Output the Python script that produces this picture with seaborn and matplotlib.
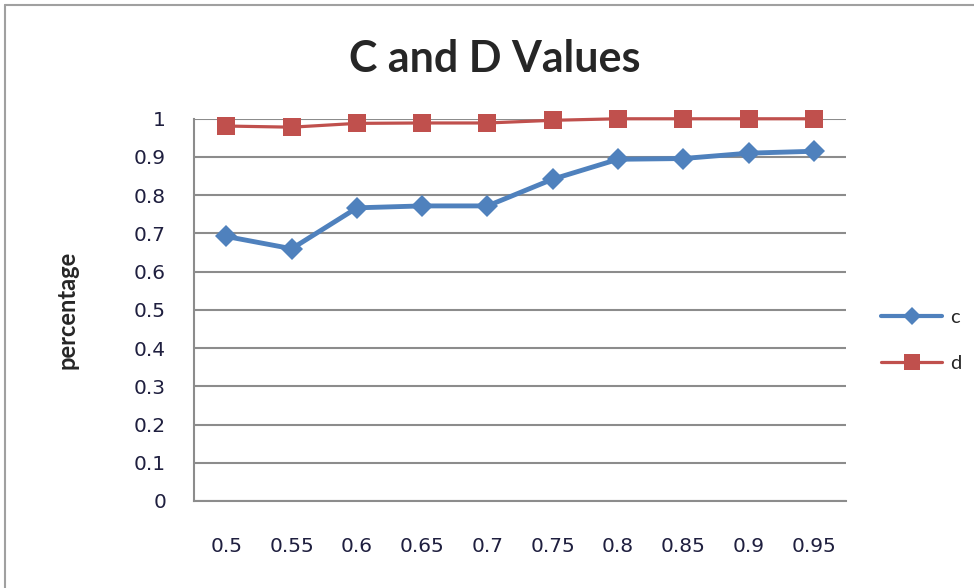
import pandas as pd
import matplotlib.pyplot as plt
import seaborn as sns
from matplotlib.lines import Line2D

# values
thresholds = ['0.5', '0.55', '0.6', '0.65', '0.7', '0.75', '0.8', '0.85', '0.9', '0.95']
c_values = [0.692, 0.660, 0.767, 0.772, 0.772, 0.842, 0.894, 0.896, 0.910, 0.915]
d_values = [0.981, 0.978, 0.988, 0.989, 0.989, 0.996, 1.0, 1.0, 1.0, 1.0]
y_ticks = [0, 0.1, 0.2, 0.3, 0.4, 0.5, 0.6, 0.7, 0.8, 0.9, 1]
y_labels = ['0', '0.1', '0.2', '0.3', '0.4', '0.5', '0.6', '0.7', '0.8', '0.9', '1']

df = pd.DataFrame({
    'threshold': thresholds * 2,
    'value': c_values + d_values,
    'series': ['c'] * len(thresholds) + ['d'] * len(thresholds),
})

sns.set_style('white')
plt.rcParams['font.family'] = ['DejaVu Sans']

blue = '#4F81BD'
red = '#C0504D'
grid_col = '#8C8C8C'

fig = plt.figure(figsize=(9.74, 5.88), dpi=100)
ax = fig.add_axes([0.199, 0.148, 0.670, 0.650])

sns.lineplot(data=df[df['series'] == 'c'], x='threshold', y='value', ax=ax,
             color=blue, lw=3.5, marker='D', markersize=11.5, markeredgewidth=0,
             legend=False)
sns.lineplot(data=df[df['series'] == 'd'], x='threshold', y='value', ax=ax,
             color=red, lw=2.3, marker='s', markersize=13.5, markeredgewidth=0,
             legend=False)
for ln in ax.lines:
    ln.set_clip_on(False)
    ln.set_zorder(3)

ax.set_xlim(-0.5, len(thresholds) - 0.5)
ax.set_ylim(0, 1)
ax.set_yticks(y_ticks)
ax.set_yticklabels(y_labels)
ax.yaxis.grid(True, color=grid_col, lw=1.5)
ax.xaxis.grid(False)
ax.set_axisbelow(True)
for side in ['top', 'right']:
    ax.spines[side].set_visible(False)
for side in ['left', 'bottom']:
    ax.spines[side].set_color(grid_col)
    ax.spines[side].set_linewidth(1.5)
ax.tick_params(axis='both', length=0, labelsize=14.5, colors='#1F1F3F')
ax.tick_params(axis='x', pad=26)
ax.tick_params(axis='y', pad=20)
ax.set_xlabel('')
ax.set_ylabel('percentage', fontsize=17, fontweight='bold', family='Lato', labelpad=40)

fig.text(0.508, 0.9, 'C and D Values', ha='center', va='center',
         fontsize=31, fontweight='bold', family='Lato')

handles = [Line2D([], [], color=blue, lw=3, marker='D', markersize=9, markeredgewidth=0),
           Line2D([], [], color=red, lw=2.3, marker='s', markersize=12, markeredgewidth=0)]
fig.legend(handles, ['c', 'd'], loc='center left', bbox_to_anchor=(0.905, 0.421),
           frameon=False, handlelength=3.0, handletextpad=0.4, labelspacing=1.45,
           borderpad=0, borderaxespad=0, prop={'family': 'Lato', 'size': 14.5})

# chart-area border (top and left edges visible in the reference)
fig.add_artist(Line2D([5 / 974, 1.0], [1 - 5 / 588, 1 - 5 / 588], color='#A0A0A0', lw=1.5))
fig.add_artist(Line2D([5 / 974, 5 / 974], [0, 1 - 5 / 588], color='#A0A0A0', lw=1.5))

fig.savefig('out.png', dpi=100)
